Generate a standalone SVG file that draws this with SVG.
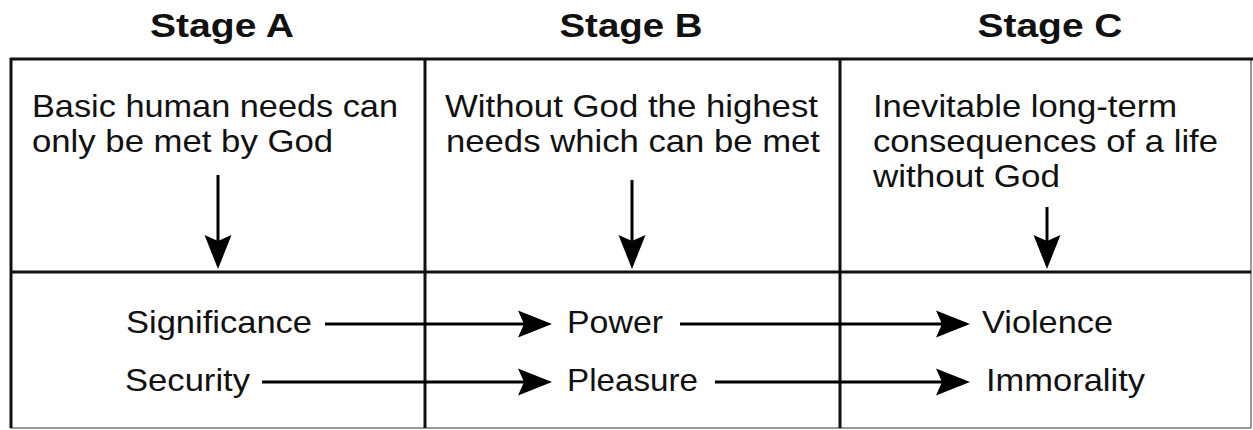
<svg xmlns="http://www.w3.org/2000/svg" width="1253" height="430" viewBox="0 0 1253 430">
  <style>
    .title { font-family: "Liberation Sans", Arial, sans-serif; font-weight: bold; font-size: 34px; fill: #111; text-anchor: middle; }
    .body { font-family: "Liberation Sans", Arial, sans-serif; font-size: 32px; fill: #111; }
    .grid { stroke: #111; stroke-width: 3; fill: none; }
    .thin { stroke: #777; stroke-width: 1.5; fill: none; }
    .conn { stroke: #000; stroke-width: 3; fill: none; marker-end: url(#arrow); }
  </style>
  <defs>
    <marker id="arrow" markerUnits="userSpaceOnUse" viewBox="-16 -15 38 30" markerWidth="38" markerHeight="30" refX="0" refY="0" orient="auto">
      <path d="M20,0 L-14,-13.5 L-8,0 L-14,13.5 Z" fill="#000"/>
    </marker>
  </defs>
  <rect width="1253" height="430" fill="#fff"/>

  <g id="table">
    <line class="thin" x1="1251" y1="59" x2="1251" y2="428"/>
    <line class="thin" x1="10" y1="428" x2="1251" y2="428"/>
    <line class="grid" x1="10" y1="59" x2="1253" y2="59" stroke-width="3.5"/>
    <line class="grid" x1="11" y1="58" x2="11" y2="428" stroke-width="4"/>
    <line class="grid" x1="425" y1="59" x2="425" y2="428"/>
    <line class="grid" x1="840" y1="59" x2="840" y2="428"/>
    <line class="grid" x1="10" y1="272" x2="1251" y2="272"/>
  </g>

  <g id="stage-a">
    <text class="title" x="222" y="37" textLength="144" lengthAdjust="spacingAndGlyphs">Stage A</text>
    <text class="body" x="32" y="117" textLength="366" lengthAdjust="spacingAndGlyphs">Basic human needs can</text>
    <text class="body" x="32" y="152" textLength="301" lengthAdjust="spacingAndGlyphs">only be met by God</text>
  </g>
  <g id="stage-b">
    <text class="title" x="631" y="37" textLength="143" lengthAdjust="spacingAndGlyphs">Stage B</text>
    <text class="body" x="445" y="117" textLength="373" lengthAdjust="spacingAndGlyphs">Without God the highest</text>
    <text class="body" x="446" y="152" textLength="374" lengthAdjust="spacingAndGlyphs">needs which can be met</text>
  </g>
  <g id="stage-c">
    <text class="title" x="1050" y="37" textLength="145" lengthAdjust="spacingAndGlyphs">Stage C</text>
    <text class="body" x="873" y="117" textLength="304" lengthAdjust="spacingAndGlyphs">Inevitable long-term</text>
    <text class="body" x="873" y="152" textLength="345" lengthAdjust="spacingAndGlyphs">consequences of a life</text>
    <text class="body" x="873" y="187" textLength="187" lengthAdjust="spacingAndGlyphs">without God</text>
  </g>

  <g id="node-significance"><text class="body" x="126" y="333" textLength="186" lengthAdjust="spacingAndGlyphs">Significance</text></g>
  <g id="node-security"><text class="body" x="125" y="391" textLength="125" lengthAdjust="spacingAndGlyphs">Security</text></g>
  <g id="node-power"><text class="body" x="567" y="333" textLength="96" lengthAdjust="spacingAndGlyphs">Power</text></g>
  <g id="node-pleasure"><text class="body" x="567" y="391" textLength="131" lengthAdjust="spacingAndGlyphs">Pleasure</text></g>
  <g id="node-violence"><text class="body" x="982" y="333" textLength="131" lengthAdjust="spacingAndGlyphs">Violence</text></g>
  <g id="node-immorality"><text class="body" x="986" y="391" textLength="159" lengthAdjust="spacingAndGlyphs">Immorality</text></g>

  <g id="connectors">
    <line class="conn" x1="218" y1="175" x2="218" y2="249"/>
    <line class="conn" x1="632" y1="180" x2="632" y2="249"/>
    <line class="conn" x1="1047" y1="207" x2="1047" y2="249"/>
    <line class="conn" x1="325" y1="324" x2="532" y2="324"/>
    <line class="conn" x1="680" y1="324" x2="950" y2="324"/>
    <line class="conn" x1="262" y1="382" x2="532" y2="382"/>
    <line class="conn" x1="715" y1="382" x2="950" y2="382"/>
  </g>
</svg>
